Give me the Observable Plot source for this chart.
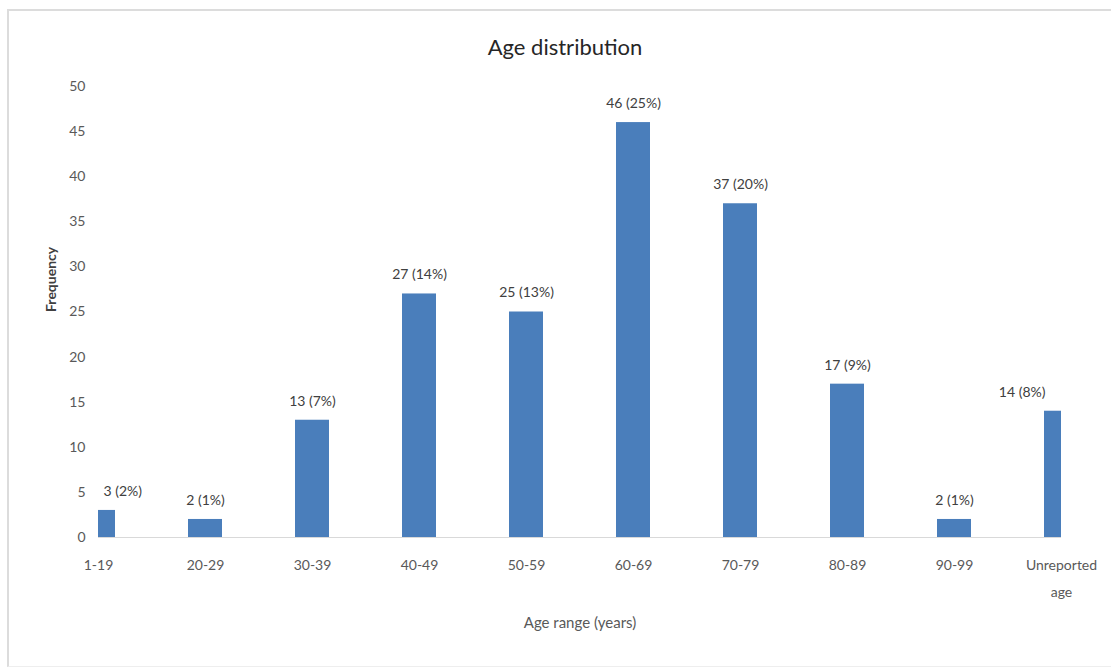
<!DOCTYPE html>
<html>
<head>
<meta charset="utf-8">
<script src="https://cdn.jsdelivr.net/npm/d3@7"></script>
<script src="https://cdn.jsdelivr.net/npm/@observablehq/plot@0.6"></script>
<style>
  html, body { margin: 0; padding: 0; background: #fff; }
  #wrap { position: relative; width: 1111px; height: 669px; overflow: hidden; font-family: Lato, "Open Sans", sans-serif; }
  #frame { position: absolute; left: 7px; top: 9px; width: 1110px; height: 658px; border-top: 2px solid #dcdcdc; border-left: 2px solid #dcdcdc; border-bottom: 1px solid #eeeeee; box-sizing: border-box; }
  #title { position: absolute; left: 0; width: 1130px; top: 33px; text-align: center; font-size: 22px; color: #262626; }
  #chart { position: absolute; left: 0; top: 0; }
</style>
</head>
<body>
<div id="wrap">
  <div id="frame"></div>
  <div id="chart"></div>
  <div id="title">Age distribution</div>
</div>
<script>
const categories = ["1-19", "20-29", "30-39", "40-49", "50-59", "60-69", "70-79", "80-89", "90-99", "Unreported age"];
const frequency = [3, 2, 13, 27, 25, 46, 37, 17, 2, 14];
const percent = [2, 1, 7, 14, 13, 25, 20, 9, 1, 8];
const yTicks = [0, 5, 10, 15, 20, 25, 30, 35, 40, 45, 50];

const data = categories.map((c, i) => ({
  cat: c, value: frequency[i], label: `${frequency[i]} (${percent[i]}%)`, i
}));

const first = categories[0];
const last = categories[categories.length - 1];

const chart = Plot.plot({
  width: 1111,
  height: 669,
  marginTop: 86,
  marginBottom: 132,
  marginLeft: 98,
  marginRight: 50,
  style: { fontFamily: "Lato, 'Open Sans', sans-serif", background: "transparent" },
  x: {
    type: "band",
    domain: categories,
    range: [44.5, 1114.5],
    paddingInner: 0.682,
    paddingOuter: 0.341,
    align: 0.5
  },
  y: { domain: [0, 50] },
  marks: [
    Plot.barY(data, { x: "cat", y: "value", fill: "#4a7ebb", clip: true }),
    Plot.ruleY([0], { stroke: "#d9d9d9", strokeWidth: 1.2 }),
    Plot.text(data.filter(d => d.cat !== first && d.cat !== last), {
      x: "cat", y: "value", text: "label", dy: -19, fontSize: 14, fill: "#404040"
    }),
    Plot.text(data.filter(d => d.cat === first), {
      x: "cat", y: "value", text: "label", dy: -19, dx: 5, textAnchor: "start", fontSize: 14, fill: "#404040"
    }),
    Plot.text(data.filter(d => d.cat === last), {
      x: "cat", y: "value", text: "label", dy: -19, dx: -16, textAnchor: "end", fontSize: 14, fill: "#404040"
    }),
    Plot.axisY({
      ticks: yTicks, tickSize: 0, tickPadding: 13, fontSize: 14, color: "#595959", label: null
    }),
    Plot.axisX({
      tickSize: 0, tickPadding: 14, fontSize: 14, color: "#595959", label: null,
      lineHeight: 1.9,
      tickFormat: d => d === "Unreported age" ? "Unreported\nage" : d
    }),
    Plot.text(["Frequency"], {
      frameAnchor: "left", dx: -47, rotate: -90, fontSize: 14, fontWeight: "bold", fill: "#404040"
    }),
    Plot.text(["Age range (years)"], {
      frameAnchor: "bottom", dy: 90, fontSize: 15, fill: "#595959"
    })
  ]
});

document.getElementById("chart").appendChild(chart);
</script>
</body>
</html>
